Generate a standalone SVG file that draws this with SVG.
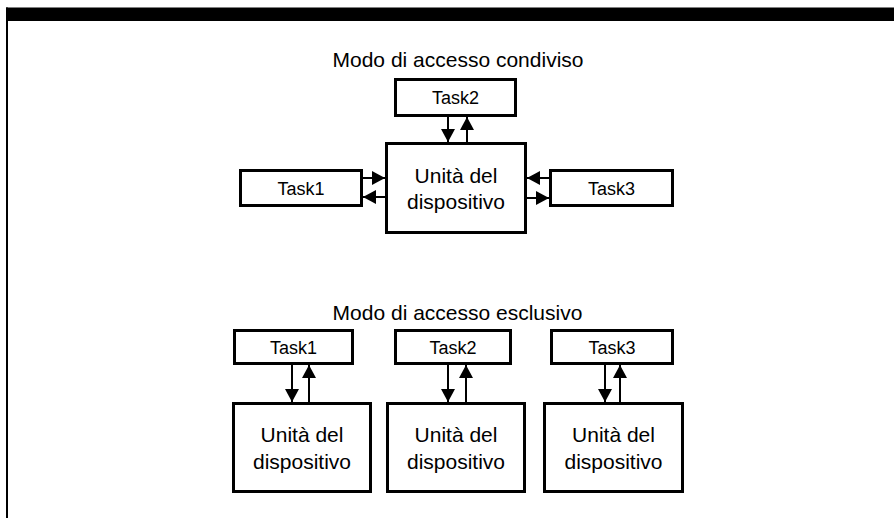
<svg xmlns="http://www.w3.org/2000/svg" width="894" height="518" viewBox="0 0 894 518">
<style>
.box{fill:#fff;stroke:#000;stroke-width:3}
.ln{fill:none;stroke:#000;stroke-width:2;marker-end:url(#ah)}
text{font-family:"Liberation Sans",Arial,sans-serif;fill:#000;text-anchor:middle}
.t{font-size:18px}
.u{font-size:21px}
.h{font-size:21px}
</style>
<defs>
<marker id="ah" markerUnits="userSpaceOnUse" markerWidth="14" markerHeight="16" refX="13" refY="7" orient="auto">
<path d="M0,0 L13,7 L0,14 Z" fill="#000"/>
</marker>
</defs>
<rect x="0" y="0" width="894" height="518" fill="#fff"/>
<g id="frame">
<rect x="6" y="7.5" width="888" height="13.5" fill="#000"/>
<rect x="6" y="7.5" width="2" height="510.5" fill="#000"/>
</g>
<text class="h" x="458" y="67">Modo di accesso condiviso</text>
<text class="h" x="457.5" y="320">Modo di accesso esclusivo</text>
<g id="shared-task2"><rect class="box" x="395.5" y="79.5" width="120" height="36"/><text class="t" x="455.5" y="104">Task2</text></g>
<g id="shared-unit"><rect class="box" x="386.5" y="143.5" width="139" height="89"/><text class="u" x="456" y="183">Unità del</text><text class="u" x="456" y="209">dispositivo</text></g>
<g id="shared-task1"><rect class="box" x="240.5" y="170.5" width="121" height="35"/><text class="t" x="301" y="194.5">Task1</text></g>
<g id="shared-task3"><rect class="box" x="550.5" y="170.5" width="122" height="35"/><text class="t" x="611.5" y="194.5">Task3</text></g>
<g id="excl-task1"><rect class="box" x="234.5" y="330.5" width="118" height="33"/><text class="t" x="293.5" y="354">Task1</text></g>
<g id="excl-task2"><rect class="box" x="395.5" y="330.5" width="115" height="33"/><text class="t" x="453" y="354">Task2</text></g>
<g id="excl-task3"><rect class="box" x="551.5" y="330.5" width="121" height="33"/><text class="t" x="612" y="354">Task3</text></g>
<g id="excl-unit1"><rect class="box" x="233.5" y="403.5" width="137" height="88"/><text class="u" x="302" y="442">Unità del</text><text class="u" x="302" y="469">dispositivo</text></g>
<g id="excl-unit2"><rect class="box" x="387.5" y="403.5" width="137" height="88"/><text class="u" x="456" y="442">Unità del</text><text class="u" x="456" y="469">dispositivo</text></g>
<g id="excl-unit3"><rect class="box" x="544.5" y="403.5" width="138" height="88"/><text class="u" x="613.5" y="442">Unità del</text><text class="u" x="613.5" y="469">dispositivo</text></g>
<g id="connectors">
<line class="ln" x1="448" y1="117" x2="448" y2="142"/>
<line class="ln" x1="467" y1="142" x2="467" y2="117"/>
<line class="ln" x1="363" y1="178" x2="385" y2="178"/>
<line class="ln" x1="385" y1="197" x2="363" y2="197"/>
<line class="ln" x1="549" y1="178" x2="527" y2="178"/>
<line class="ln" x1="527" y1="198" x2="549" y2="198"/>
<line class="ln" x1="292" y1="365" x2="292" y2="402"/>
<line class="ln" x1="309" y1="402" x2="309" y2="365"/>
<line class="ln" x1="448" y1="365" x2="448" y2="402"/>
<line class="ln" x1="466" y1="402" x2="466" y2="365"/>
<line class="ln" x1="605" y1="365" x2="605" y2="402"/>
<line class="ln" x1="620" y1="402" x2="620" y2="365"/>
</g>
</svg>
